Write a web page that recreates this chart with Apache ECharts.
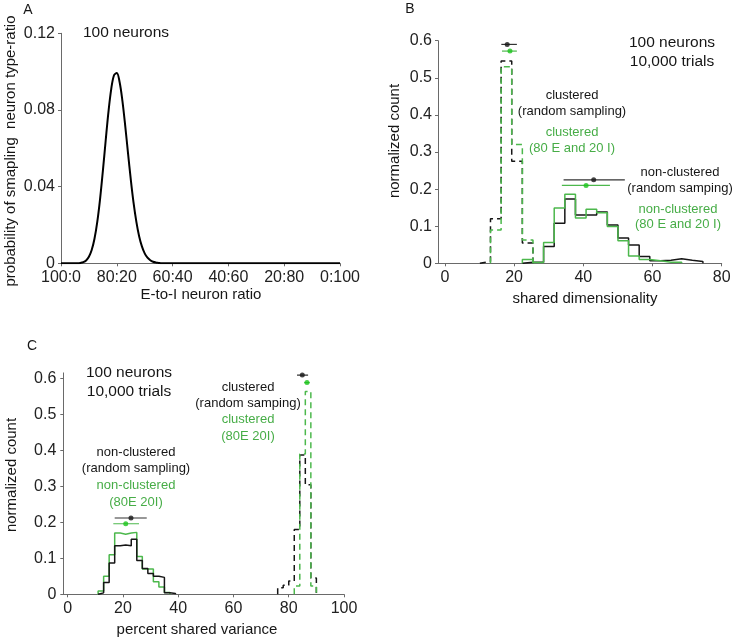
<!DOCTYPE html>
<html>
<head>
<meta charset="utf-8">
<script src="https://cdn.jsdelivr.net/npm/echarts@6/dist/echarts.min.js"></script>
<style>
html,body{margin:0;padding:0;background:#fff;}
#chart{width:736px;height:641px;}
</style>
</head>
<body>
<div id="chart"></div>
<script>
// ---------- Panel A data ----------
const ratioE = [100, 94, 93, 92, 91, 90, 89, 88, 87, 86, 85, 84, 83, 82, 81, 80, 79, 78, 77, 76, 75, 74, 73, 72, 71, 70, 69, 68, 67, 66, 65, 64, 0];
const probA = [0, 0, 0.0002, 0.0006, 0.0015, 0.0034, 0.0069, 0.0128, 0.0216, 0.0335, 0.0481, 0.0638, 0.0789, 0.0909, 0.0981, 0.0993, 0.0946, 0.0849, 0.0720, 0.0577, 0.0439, 0.0316, 0.0217, 0.0141, 0.0088, 0.0052, 0.0029, 0.0016, 0.0008, 0.0004, 0.0002, 0, 0];
const ratioTickValues = [100, 80, 60, 40, 20, 0];
const ratioTickLabels = ['100:0', '80:20', '60:40', '40:60', '20:80', '0:100'];
const probTicks = [0, 0.04, 0.08, 0.12];

// ---------- Panel B data ----------
const binEdgesB = [10.1, 13.17, 16.24, 19.31, 22.38, 25.45, 28.52, 31.59, 34.66, 37.73, 40.8, 43.87, 46.94, 50.01, 53.08, 56.15, 59.22, 62.29, 65.36, 68.43, 71.5, 74.57];
const clusteredRandomB = [0.005, 0.12, 0.545, 0.275, 0.055, 0, 0, 0, 0, 0, 0, 0, 0, 0, 0, 0, 0, 0, 0, 0, 0];
const clustered8020B = [0, 0.09, 0.53, 0.32, 0.063, 0, 0, 0, 0, 0, 0, 0, 0, 0, 0, 0, 0, 0, 0, 0, 0];
const nonClusteredRandomB = [0, 0, 0, 0, 0.003, 0.003, 0.045, 0.108, 0.173, 0.13, 0.13, 0.138, 0.103, 0.068, 0.049, 0.018, 0.007, 0.008, 0.012, 0.008, 0.005];
const nonClustered8020B = [0, 0, 0, 0, 0.01, 0.002, 0.056, 0.149, 0.186, 0.122, 0.146, 0.136, 0.099, 0.061, 0.02, 0.01, 0.007, 0.003, 0.003, 0, 0];
// error bars: [low, mean, high, height]
const errClusteredRandomB = [16.3, 18.0, 20.8, 0.59];
const errClustered8020B = [16.5, 18.8, 20.8, 0.572];
const errNonClusteredRandomB = [34.3, 43.0, 52.0, 0.225];
const errNonClustered8020B = [33.8, 40.8, 47.7, 0.21];
const dimTicks = [0, 20, 40, 60, 80];
const countTicksB = [0, 0.1, 0.2, 0.3, 0.4, 0.5, 0.6];

// ---------- Panel C data ----------
const binEdgesCNon = [11, 13, 15, 17, 19, 21, 23, 25, 27, 29, 31, 33, 35, 37, 39];
const nonClusteredRandomC = [0.004, 0.033, 0.087, 0.135, 0.137, 0.135, 0.153, 0.094, 0.072, 0.058, 0.05, 0.047, 0.004, 0.002];
const nonClustered8020C = [0.009, 0.05, 0.11, 0.17, 0.167, 0.17, 0.172, 0.105, 0.07, 0.07, 0.035, 0.02, 0.005, 0];
const binEdgesCClu = [76, 78, 80, 82, 84, 86, 88, 90];
const clusteredRandomC = [0.018, 0.025, 0.037, 0.18, 0.387, 0.304, 0.045];
const clustered8020C = [0, 0, 0, 0.023, 0.39, 0.563, 0.023];
const errClusteredRandomC = [83.0, 84.9, 87.0, 0.609];
const errClustered8020C = [85.6, 86.6, 87.6, 0.588];
const errNonClusteredRandomC = [17.0, 22.9, 28.6, 0.212];
const errNonClustered8020C = [16.5, 21.0, 25.8, 0.196];
const varTicks = [0, 20, 40, 60, 80, 100];
const countTicksC = [0, 0.1, 0.2, 0.3, 0.4, 0.5, 0.6];

// ---------- styling ----------
const FONT = '"Liberation Sans", Arial, sans-serif';
const BLACK = '#161616';
const GREEN = '#4cb84c';
const GREEN_TEXT = '#47ad47';
const GREEN_DOT = '#1cc41c';
const AXIS = '#6a6a6a';

function stairs(edges, vals) {
  let first = vals.findIndex(v => v > 0);
  let last = vals.length - 1;
  while (last > 0 && !(vals[last] > 0)) last--;
  const pts = [[edges[first], 0]];
  for (let i = first; i <= last; i++) {
    pts.push([edges[i], vals[i]]);
    pts.push([edges[i + 1], vals[i]]);
  }
  pts.push([edges[last + 1], 0]);
  return pts;
}

function histSeries(idx, edges, vals, color, dashed, z) {
  return {
    type: 'line', xAxisIndex: idx, yAxisIndex: idx,
    data: stairs(edges, vals), symbol: 'none', silent: true, z: z,
    lineStyle: { color: color, width: 1.5, type: dashed ? [6, 4] : 'solid' },
    animation: false
  };
}

function errSeries(idx, err, lineColor, dotColor) {
  return [
    {
      type: 'line', xAxisIndex: idx, yAxisIndex: idx,
      data: [[err[0], err[3]], [err[2], err[3]]], symbol: 'none', silent: true, z: 5,
      lineStyle: { color: lineColor, width: 1.2 }, animation: false
    },
    {
      type: 'scatter', xAxisIndex: idx, yAxisIndex: idx,
      data: [[err[1], err[3]]], symbolSize: 5, silent: true, z: 6,
      itemStyle: { color: dotColor }, animation: false
    }
  ];
}

function xAxisCfg(idx, min, max, ticks, formatter, inverse) {
  return {
    type: 'value', gridIndex: idx, min: min, max: max, inverse: !!inverse,
    axisLine: { show: true, onZero: false, lineStyle: { color: AXIS, width: 1 } },
    axisTick: { show: true, customValues: ticks, length: 3, lineStyle: { color: AXIS } },
    axisLabel: { customValues: ticks, fontSize: 16, fontFamily: FONT, color: '#222', margin: 6,
      formatter: formatter, hideOverlap: false, showMinLabel: true, showMaxLabel: true },
    splitLine: { show: false }
  };
}

function yAxisCfg(idx, min, max, ticks, margin) {
  return {
    type: 'value', gridIndex: idx, min: min, max: max,
    axisLine: { show: true, onZero: false, lineStyle: { color: AXIS, width: 1 } },
    axisTick: { show: true, customValues: ticks, length: 3, lineStyle: { color: AXIS } },
    axisLabel: { customValues: ticks, fontSize: 16, fontFamily: FONT, color: '#222', margin: margin,
      hideOverlap: false, showMinLabel: true, showMaxLabel: true },
    splitLine: { show: false }
  };
}

function txt(x, y, s, color, size, rot) {
  return {
    type: 'text', x: x, y: y, rotation: rot || 0, silent: true,
    style: { text: s, fill: color, font: size + 'px ' + FONT, align: 'center', verticalAlign: 'middle' }
  };
}

const chart = echarts.init(document.getElementById('chart'), null, { renderer: 'canvas' });

const option = {
  backgroundColor: '#ffffff',
  animation: false,
  grid: [
    { left: 61, top: 33.3, width: 279, height: 230, containLabel: false, outerBoundsMode: 'none' },
    { left: 438, top: 40.7, width: 283.7, height: 222.6, containLabel: false, outerBoundsMode: 'none' },
    { left: 63.3, top: 372.9, width: 280.7, height: 221.4, containLabel: false, outerBoundsMode: 'none' }
  ],
  xAxis: [
    xAxisCfg(0, 0, 100, ratioTickValues, v => ratioTickLabels[ratioTickValues.indexOf(Math.round(v))] || '', true),
    xAxisCfg(1, -2, 80, dimTicks, v => String(Math.round(v))),
    xAxisCfg(2, -1.6, 100, varTicks, v => String(Math.round(v)))
  ],
  yAxis: [
    yAxisCfg(0, 0, 0.12, probTicks, 6),
    yAxisCfg(1, 0, 0.6, countTicksB, 6),
    yAxisCfg(2, 0, 0.615, countTicksC, 7)
  ],
  series: [
    {
      type: 'line', xAxisIndex: 0, yAxisIndex: 0,
      data: ratioE.map((e, i) => [e, probA[i]]), symbol: 'none', smooth: 0.35, silent: true,
      lineStyle: { color: '#000', width: 2 }, animation: false, z: 4
    },
    histSeries(1, binEdgesB, clusteredRandomB, BLACK, true, 3),
    histSeries(1, binEdgesB, clustered8020B, GREEN, true, 4),
    histSeries(1, binEdgesB, nonClusteredRandomB, BLACK, false, 3),
    histSeries(1, binEdgesB, nonClustered8020B, GREEN, false, 4),
    ...errSeries(1, errClusteredRandomB, '#333', BLACK),
    ...errSeries(1, errClustered8020B, GREEN, GREEN_DOT),
    ...errSeries(1, errNonClusteredRandomB, '#333', BLACK),
    ...errSeries(1, errNonClustered8020B, GREEN, GREEN_DOT),
    histSeries(2, binEdgesCNon, nonClusteredRandomC, BLACK, false, 4),
    histSeries(2, binEdgesCNon, nonClustered8020C, GREEN, false, 3),
    histSeries(2, binEdgesCClu, clusteredRandomC, BLACK, true, 3),
    histSeries(2, binEdgesCClu, clustered8020C, GREEN, true, 4),
    ...errSeries(2, errClusteredRandomC, '#333', BLACK),
    ...errSeries(2, errClustered8020C, GREEN, GREEN_DOT),
    ...errSeries(2, errNonClusteredRandomC, '#333', BLACK),
    ...errSeries(2, errNonClustered8020C, GREEN, GREEN_DOT)
  ],
  graphic: [
    // Panel A
    txt(28, 10, 'A', BLACK, 14),
    txt(126, 33, '100 neurons', BLACK, 15.5),
    txt(11, 151, 'probability of smapling  neuron type-ratio', BLACK, 15, Math.PI / 2),
    txt(201, 295, 'E-to-I neuron ratio', BLACK, 15),
    // Panel B
    txt(410, 9, 'B', BLACK, 14),
    txt(672, 43, '100 neurons', BLACK, 15.5),
    txt(672, 62, '10,000 trials', BLACK, 15.5),
    txt(572, 95, 'clustered', BLACK, 13),
    txt(572, 111, '(random sampling)', BLACK, 13),
    txt(572, 132, 'clustered', GREEN_TEXT, 13),
    txt(572, 148, '(80 E and 20 I)', GREEN_TEXT, 13),
    txt(680, 172, 'non-clustered', BLACK, 13),
    txt(680, 188, '(random samping)', BLACK, 13),
    txt(678, 209, 'non-clustered', GREEN_TEXT, 13),
    txt(678, 224, '(80 E and 20 I)', GREEN_TEXT, 13),
    txt(395, 141, 'normalized count', BLACK, 15, Math.PI / 2),
    txt(585, 299, 'shared dimensionality', BLACK, 15),
    // Panel C
    txt(32, 346, 'C', BLACK, 14),
    txt(129, 373, '100 neurons', BLACK, 15.5),
    txt(129, 392, '10,000 trials', BLACK, 15.5),
    txt(248, 387, 'clustered', BLACK, 13),
    txt(248, 403, '(random samping)', BLACK, 13),
    txt(248, 419, 'clustered', GREEN_TEXT, 13),
    txt(248, 436, '(80E 20I)', GREEN_TEXT, 13),
    txt(136, 452, 'non-clustered', BLACK, 13),
    txt(136, 468, '(random sampling)', BLACK, 13),
    txt(136, 485, 'non-clustered', GREEN_TEXT, 13),
    txt(136, 502, '(80E 20I)', GREEN_TEXT, 13),
    txt(12, 475, 'normalized count', BLACK, 15, Math.PI / 2),
    txt(197, 630, 'percent shared variance', BLACK, 15)
  ]
};
chart.setOption(option);
</script>
</body>
</html>
